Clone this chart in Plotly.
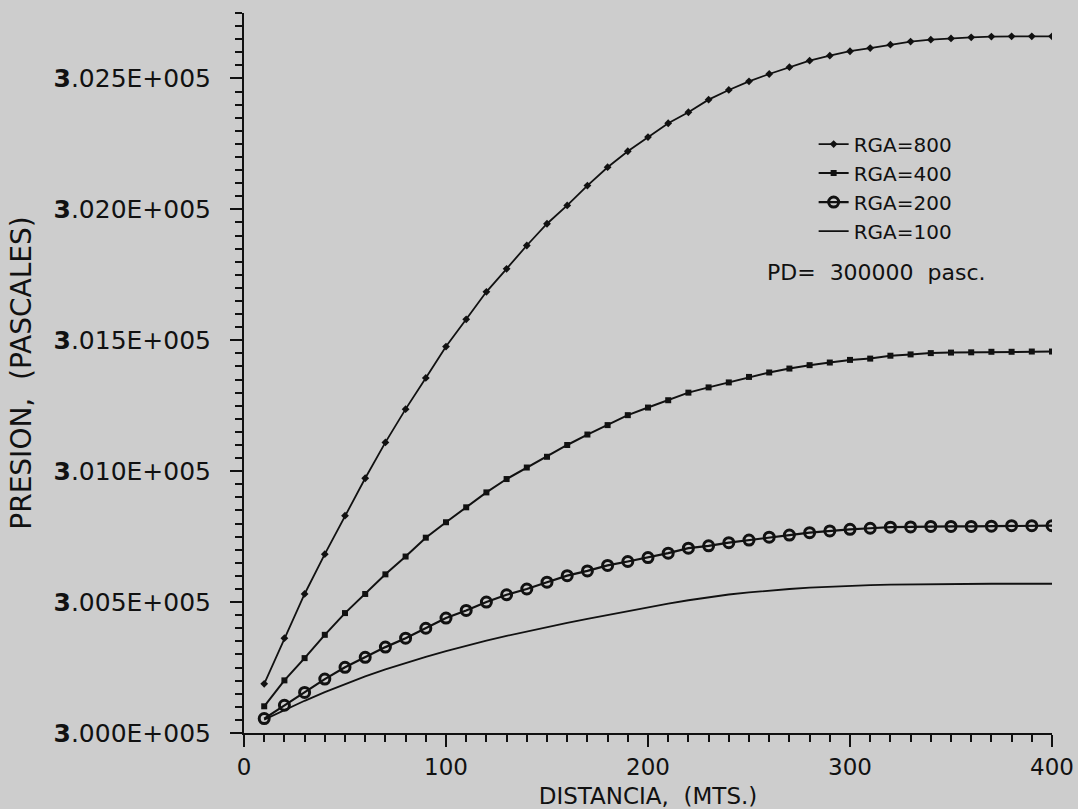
import plotly.graph_objects as go

# ---- data ----
distancia = [10, 20, 30, 40, 50, 60, 70, 80, 90, 100,
             110, 120, 130, 140, 150, 160, 170, 180, 190, 200,
             210, 220, 230, 240, 250, 260, 270, 280, 290, 300,
             310, 320, 330, 340, 350, 360, 370, 380, 390, 400]

rga_800 = [300188, 300362, 300531, 300683, 300830, 300973, 301110, 301237, 301356, 301476,
           301580, 301685, 301773, 301862, 301945, 302015, 302091, 302161, 302222, 302276,
           302329, 302371, 302419, 302456, 302489, 302517, 302543, 302568, 302587, 302604,
           302616, 302629, 302641, 302648, 302653, 302657, 302660, 302661, 302661, 302661]

rga_400 = [300102, 300201, 300286, 300375, 300458, 300531, 300606, 300674, 300746, 300805,
           300862, 300919, 300970, 301014, 301055, 301100, 301140, 301176, 301214, 301243,
           301271, 301300, 301320, 301339, 301360, 301377, 301392, 301405, 301415, 301425,
           301430, 301441, 301446, 301451, 301453, 301454, 301456, 301456, 301457, 301457]

rga_200 = [300055, 300106, 300155, 300206, 300251, 300289, 300328, 300362, 300400, 300439,
           300468, 300500, 300528, 300550, 300576, 300601, 300619, 300640, 300655, 300670,
           300687, 300706, 300715, 300727, 300737, 300748, 300756, 300765, 300772, 300778,
           300782, 300786, 300787, 300789, 300789, 300789, 300790, 300792, 300792, 300792]

rga_100 = [300051, 300088, 300123, 300156, 300187, 300216, 300243, 300268, 300291, 300313,
           300334, 300353, 300371, 300388, 300405, 300421, 300436, 300451, 300466, 300480,
           300494, 300507, 300519, 300529, 300537, 300544, 300550, 300555, 300559, 300562,
           300565, 300567, 300568, 300569, 300569, 300570, 300570, 300570, 300570, 300570]

series_names = ["RGA=800", "RGA=400", "RGA=200", "RGA=100"]

y_tick_vals = [300000, 300500, 301000, 301500, 302000, 302500]
y_tick_text = ["<b>3</b>.000E+005", "<b>3</b>.005E+005", "<b>3</b>.010E+005",
               "<b>3</b>.015E+005", "<b>3</b>.020E+005", "<b>3</b>.025E+005"]
x_tick_vals = [0, 100, 200, 300, 400]
x_tick_text = ["0", "100", "200", "300", "400"]

FONT = "DejaVu Sans"
BG = "#cdcdcd"
INK = "#111111"

fig = go.Figure()

fig.add_trace(go.Scatter(
    x=distancia, y=rga_800, name=series_names[0], mode="lines+markers",
    line=dict(color=INK, width=1.8),
    marker=dict(symbol="diamond", size=6, color=INK),
))
fig.add_trace(go.Scatter(
    x=distancia, y=rga_400, name=series_names[1], mode="lines+markers",
    line=dict(color=INK, width=2),
    marker=dict(symbol="square", size=6, color=INK),
))
fig.add_trace(go.Scatter(
    x=distancia, y=rga_200, name=series_names[2], mode="lines+markers",
    line=dict(color=INK, width=2.2),
    marker=dict(symbol="circle-open", size=10, color=INK, line=dict(width=3, color=INK)),
))
fig.add_trace(go.Scatter(
    x=distancia, y=rga_100, name=series_names[3], mode="lines",
    line=dict(color=INK, width=1.8),
))

fig.update_layout(
    width=1078, height=809,
    margin=dict(l=244, r=26, t=13, b=76),
    paper_bgcolor=BG, plot_bgcolor=BG,
    font=dict(family=FONT, color=INK, size=23),
    showlegend=True,
    legend=dict(
        x=0.705, y=0.845, xanchor="left", yanchor="top",
        bgcolor="rgba(0,0,0,0)", borderwidth=0,
        font=dict(family=FONT, size=20, color=INK),
        tracegroupgap=0,
    ),
    annotations=[dict(
        text="PD=  300000  pasc.", xref="paper", yref="paper",
        x=0.645, y=0.640, xanchor="left", yanchor="middle",
        showarrow=False, font=dict(family=FONT, size=22, color=INK),
    )],
)

fig.update_xaxes(
    range=[0, 400], showgrid=False, zeroline=False, automargin=False,
    showline=True, linecolor=INK, linewidth=2, mirror=False,
    tickvals=x_tick_vals, ticktext=x_tick_text,
    ticks="outside", ticklen=12, tickwidth=2, tickcolor=INK,
    minor=dict(dtick=10, ticks="outside", ticklen=7, tickwidth=1.5, tickcolor=INK),
    tickfont=dict(family=FONT, size=23, color=INK),
    title=dict(text="DISTANCIA,  (MTS.)", font=dict(family=FONT, size=23, color=INK), standoff=13),
)
fig.update_yaxes(
    range=[300000, 302750], showgrid=False, zeroline=False, automargin=False,
    showline=True, linecolor=INK, linewidth=2, mirror=False,
    tickvals=y_tick_vals, ticktext=y_tick_text,
    ticks="outside", ticklen=12, tickwidth=2, tickcolor=INK,
    minor=dict(dtick=50, ticks="outside", ticklen=7, tickwidth=1.5, tickcolor=INK),
    tickfont=dict(family=FONT, size=25, color=INK),
    ticklabelstandoff=14,
    title=dict(text="PRESION,  (PASCALES)", font=dict(family=FONT, size=28, color=INK), standoff=14),
)

fig.write_html("out.html", config={"displayModeBar": False},
               post_script="document.body.style.margin='0';")
